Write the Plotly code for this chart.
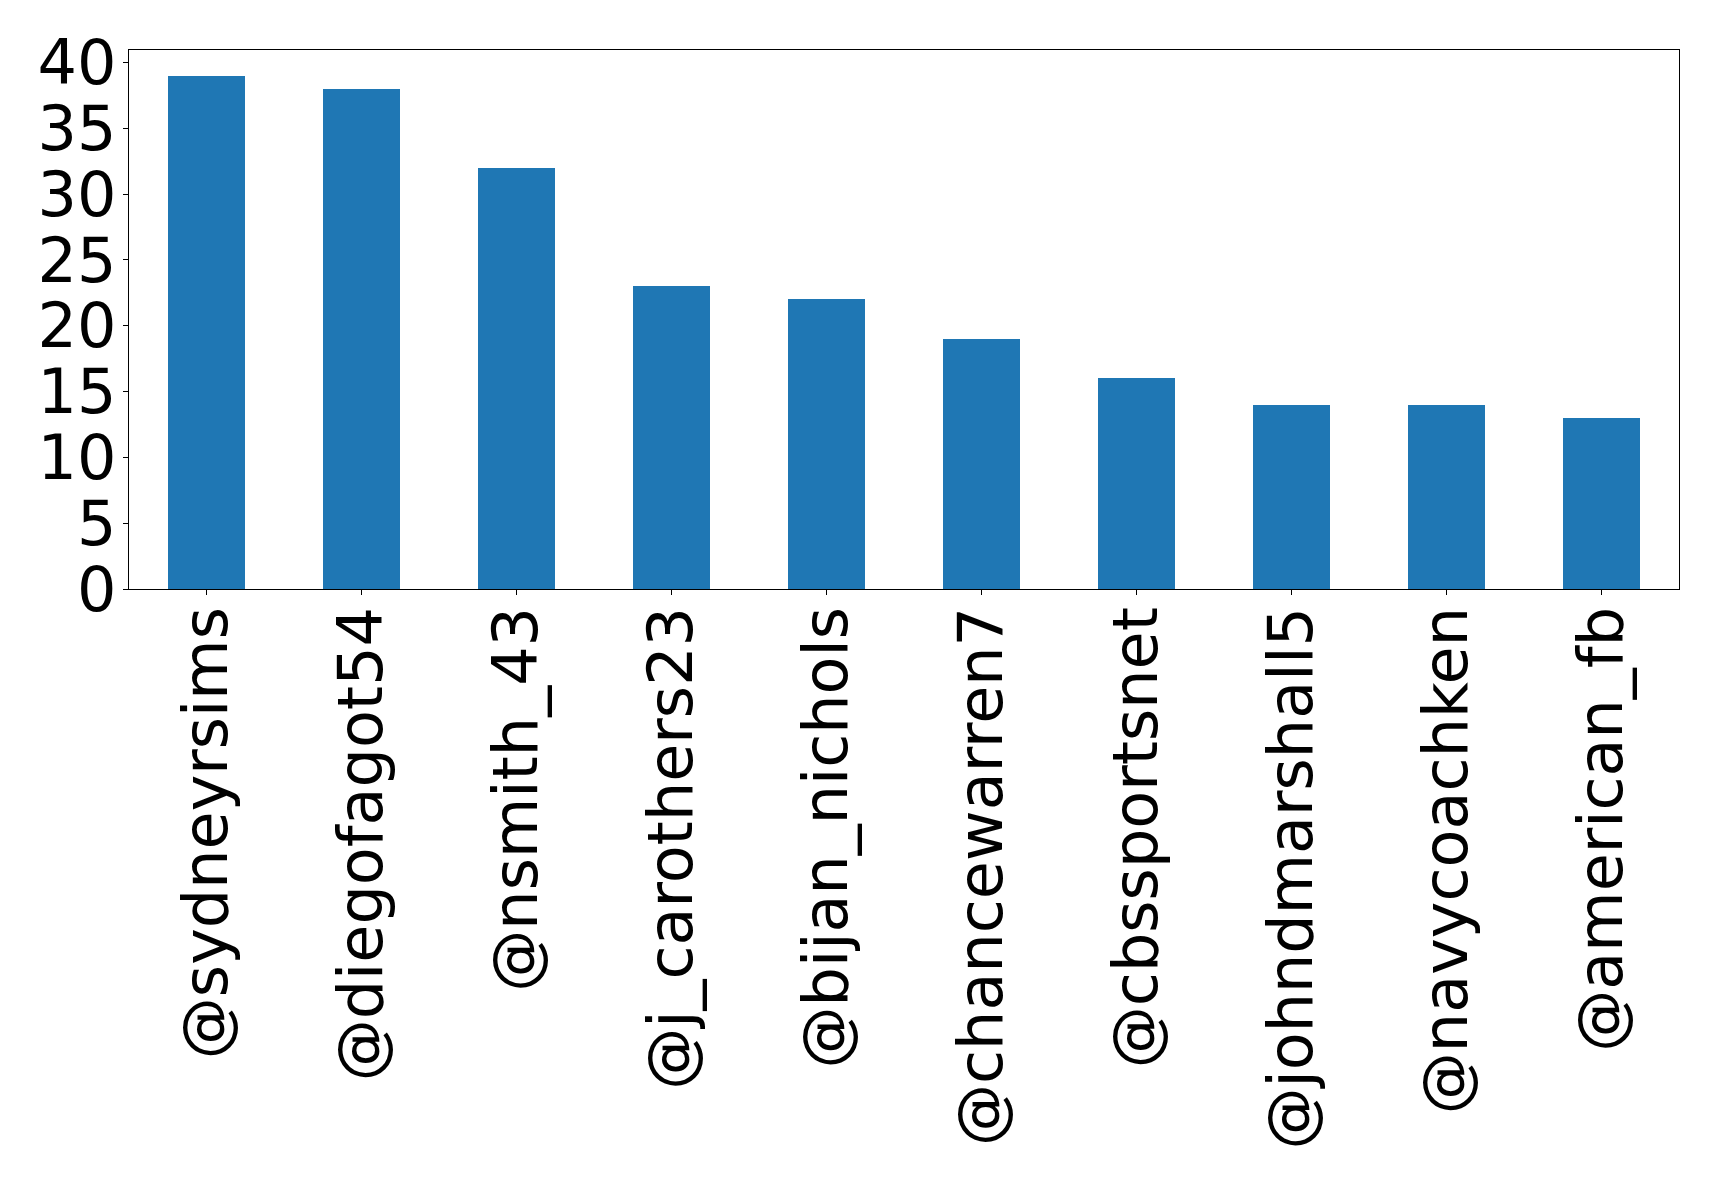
import plotly.graph_objects as go

users = ["@sydneyrsims", "@diegofagot54", "@nsmith_43", "@j_carothers23", "@bijan_nichols",
         "@chancewarren7", "@cbssportsnet", "@johndmarshall5", "@navycoachken", "@american_fb"]
counts = [39, 38, 32, 23, 22, 19, 16, 14, 14, 13]
y_ticks = [0, 5, 10, 15, 20, 25, 30, 35, 40]

fig = go.Figure(go.Bar(
    x=list(range(len(users))), y=counts, width=0.5,
    marker=dict(color="#1f77b4", line=dict(width=0)),
))

axis_common = dict(
    showline=True, linecolor="black", linewidth=1.3, mirror=True,
    ticks="outside", ticklen=5, tickwidth=1.3, tickcolor="black",
    showgrid=False, zeroline=False, automargin=False,
    tickfont=dict(family="DejaVu Sans", size=62, color="black"),
)

fig.update_layout(
    width=1711, height=1177,
    margin=dict(l=121, r=40, t=42, b=596, pad=0),
    paper_bgcolor="white", plot_bgcolor="white",
    showlegend=False,
    bargap=0,
    xaxis=dict(range=[-0.5, 9.5], tickmode="array", tickvals=list(range(len(users))),
               ticktext=users, tickangle=-90, ticklabelstandoff=-13, **axis_common),
    yaxis=dict(range=[0, 40.95], tickmode="array", tickvals=y_ticks,
               ticktext=[str(v) for v in y_ticks], ticklabelstandoff=-6, **axis_common),
)

fig.write_html("out.html")
